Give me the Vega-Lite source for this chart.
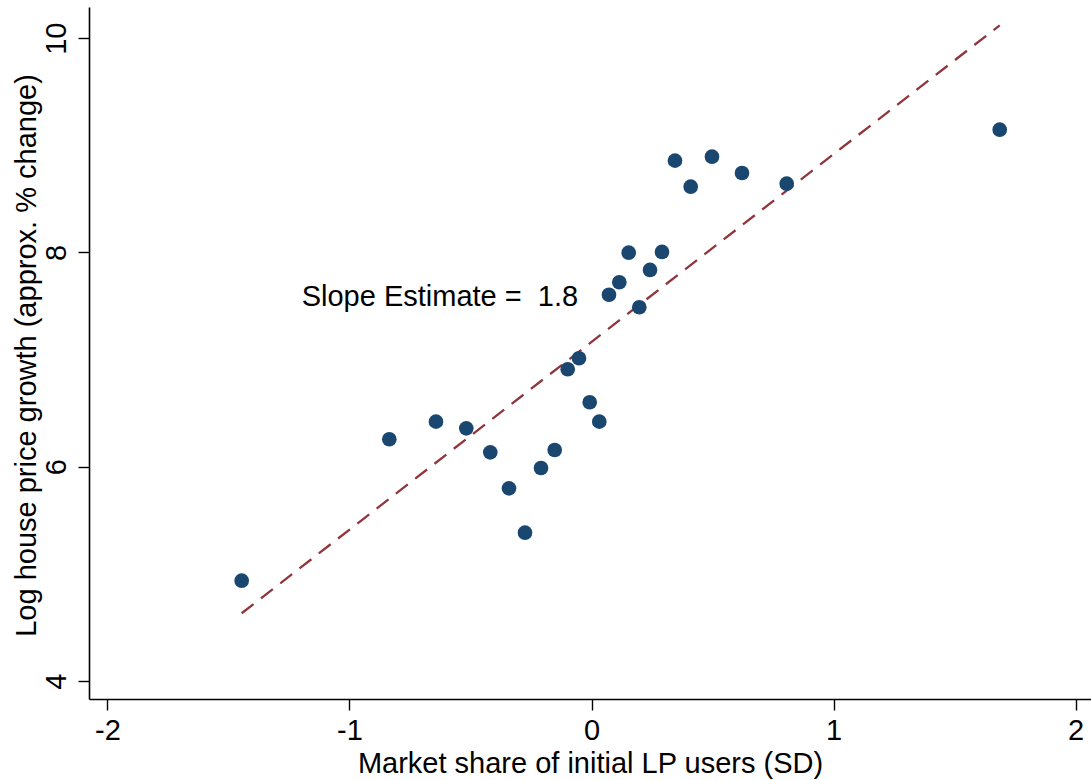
{
  "$schema": "https://vega.github.io/schema/vega-lite/v6.json",
  "width": 1002,
  "height": 692,
  "autosize": {"type": "none"},
  "padding": {"left": 89, "top": 7, "right": 0, "bottom": 81},
  "background": "white",
  "config": {
    "view": {"stroke": null},
    "font": "Liberation Sans",
    "axis": {
      "grid": false,
      "domainColor": "#000000",
      "domainWidth": 1.6,
      "tickColor": "#000000",
      "tickWidth": 1.4,
      "tickSize": 11,
      "labelColor": "#000000",
      "titleColor": "#000000",
      "labelFontSize": 29,
      "titleFontSize": 29,
      "titleFontWeight": "normal",
      "labelFont": "Liberation Sans",
      "titleFont": "Liberation Sans"
    }
  },
  "datasets": {
    "points": [
      {"x": -1.4455, "y": 4.937},
      {"x": -0.8355, "y": 6.257},
      {"x": -0.6426, "y": 6.421},
      {"x": -0.5174, "y": 6.359},
      {"x": -0.4182, "y": 6.135},
      {"x": -0.3409, "y": 5.799},
      {"x": -0.2748, "y": 5.385},
      {"x": -0.2087, "y": 5.989},
      {"x": -0.1521, "y": 6.157},
      {"x": -0.0983, "y": 6.910},
      {"x": -0.0517, "y": 7.013},
      {"x": -0.0074, "y": 6.602},
      {"x": 0.0322, "y": 6.421},
      {"x": 0.0723, "y": 7.606},
      {"x": 0.1149, "y": 7.722},
      {"x": 0.1537, "y": 7.998},
      {"x": 0.1975, "y": 7.489},
      {"x": 0.2417, "y": 7.837},
      {"x": 0.2913, "y": 8.005},
      {"x": 0.3450, "y": 8.857},
      {"x": 0.4099, "y": 8.614},
      {"x": 0.4979, "y": 8.894},
      {"x": 0.6219, "y": 8.742},
      {"x": 0.8066, "y": 8.642},
      {"x": 1.6868, "y": 9.146}
    ],
    "fit": [
      {"x": -1.4455, "y": 4.633},
      {"x": 1.6868, "y": 10.120}
    ],
    "label": [
      {"x": -1.1975, "y": 7.501, "text": "Slope Estimate =\u00a0\u00a01.8"}
    ]
  },
  "encoding": {
    "x": {
      "field": "x",
      "type": "quantitative",
      "scale": {"domain": [-2.0764, 2.064], "nice": false, "zero": false},
      "axis": {
        "values": [-2, -1, 0, 1, 2],
        "labelExpr": "'' + datum.value",
        "labelPadding": 6,
        "title": "Market share of initial LP users (SD)",
        "titleBaseline": "alphabetic",
        "titleY": 73
      }
    },
    "y": {
      "field": "y",
      "type": "quantitative",
      "scale": {"domain": [3.833, 10.291], "nice": false, "zero": false},
      "axis": {
        "values": [4, 6, 8, 10],
        "labelExpr": "'' + datum.value",
        "labelAngle": -90,
        "labelAlign": "center",
        "labelBaseline": "alphabetic",
        "labelPadding": 13,
        "title": "Log house price growth (approx. % change)",
        "titleAngle": -90,
        "titleAlign": "center",
        "titleBaseline": "alphabetic",
        "titleX": -54,
        "titleY": 348
      }
    }
  },
  "layer": [
    {
      "data": {"name": "fit"},
      "mark": {"type": "line", "color": "#8f353b", "strokeWidth": 2.3, "strokeDash": [15, 9.4]}
    },
    {
      "data": {"name": "points"},
      "mark": {"type": "circle", "size": 215, "color": "#1a476f", "opacity": 1}
    },
    {
      "data": {"name": "label"},
      "mark": {"type": "text", "align": "left", "baseline": "alphabetic", "fontSize": 29, "color": "#000000", "font": "Liberation Sans"},
      "encoding": {"text": {"field": "text"}}
    }
  ]
}
